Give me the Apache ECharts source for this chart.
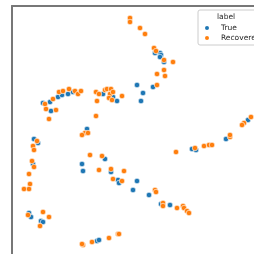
<!DOCTYPE html>
<html>
<head>
<meta charset="utf-8">
<script src="https://cdn.jsdelivr.net/npm/echarts@6/dist/echarts.min.js"></script>
<style>
  html, body { margin: 0; padding: 0; background: #fff; }
  #main { width: 254px; height: 254px; }
</style>
</head>
<body>
<div id="main"></div>
<script>
// embedding coordinates (arbitrary units)
const trueX = [31, 39, 38, 46, 50, 56, 61, 91, 101, 105, 143, 148, 149, 148, 152, 141, 125, 131, 129, 236,
    75, 22, 26, 21, 70, 71, 93, 99, 106, 107, 17, 19, 29, 31, 85, 87, 214, 180, 184, 125, 121, 137, 149, 158];
const trueY = [153, 145, 154, 159, 161, 162, 164, 162, 159, 155, 203, 203, 201, 199, 194, 169, 171, 163, 155, 136,
    127, 117, 113, 92, 92, 85, 97, 84, 76, 73, 43, 39, 35, 34, 15, 16, 117, 107, 106, 75, 66, 61, 52, 51];

const recX = [33, 34, 37, 44, 41, 47, 51, 57, 63, 66, 69, 84, 85, 84, 87, 93, 95, 99, 98, 101, 97, 100, 110,
    118, 118, 128, 133, 142, 144, 152, 161, 152, 153, 145, 145, 239, 232, 230,
    73, 76, 70, 25, 21, 22, 20, 22, 17, 18, 12, 17, 78, 90, 87, 99, 101, 110, 112,
    16, 31, 37, 28, 71, 70, 80, 97, 106, 107, 218, 218, 164, 183, 192, 197, 200,
    143, 144, 151, 151, 165, 171, 172, 175, 177];
const recY = [152, 147, 137, 146, 157, 164, 165, 167, 165, 162, 165, 164, 155, 140, 162, 166, 167, 167, 162, 164, 158, 156, 160,
    238, 234, 228, 222, 208, 205, 196, 194, 186, 180, 182, 171, 139, 133, 131,
    123, 123, 121, 115, 110, 106, 95, 89, 82, 72, 67, 67, 101, 100, 86, 87, 77, 75, 85,
    41, 44, 39, 30, 11, 12, 14, 18, 22, 22, 119, 121, 104, 108, 110, 111, 111,
    66, 64, 53, 50, 48, 50, 48, 45, 43];

const seriesNames = ['True', 'Recovered'];
const blue = '#1f77b4';
const orange = '#ff7f0e';

const chart = echarts.init(document.getElementById('main'));

function pairs(xs, ys) {
    return xs.map((x, i) => [x, ys[i]]);
}

const spine = { show: true, onZero: false, lineStyle: { color: '#777', width: 2 } };

const option = {
    animation: false,
    // the plot area runs past the right and bottom edges of the picture
    grid: { left: 12, top: 6, width: 270, height: 270, outerBoundsMode: 'none', containLabel: false },
    xAxis: {
        type: 'value', position: 'top', min: 0, max: 270,
        axisLine: spine, axisTick: { show: false }, axisLabel: { show: false }, splitLine: { show: false }
    },
    yAxis: {
        type: 'value', position: 'left', min: -20, max: 250,
        axisLine: spine, axisTick: { show: false }, axisLabel: { show: false }, splitLine: { show: false }
    },
    legend: {
        orient: 'vertical',
        left: 198, top: 10,
        padding: [14, 40, 3, 5],
        itemWidth: 18, itemHeight: 6, itemGap: 2,
        icon: 'circle',
        backgroundColor: 'rgba(255,255,255,0.85)',
        borderColor: '#ccc', borderWidth: 1, borderRadius: 2,
        textStyle: { fontFamily: 'DejaVu Sans', fontSize: 7.5, color: '#262626', lineHeight: 8 },
        data: seriesNames
    },
    graphic: [{
        type: 'text', left: 217, top: 13, z: 100,
        style: { text: 'label', fontFamily: 'DejaVu Sans', fontSize: 7.5, fill: '#262626' }
    }],
    series: [
        {
            name: seriesNames[0], type: 'scatter', symbolSize: 5.5,
            itemStyle: { color: blue, opacity: 1, borderColor: '#fff', borderWidth: 0.6 },
            data: pairs(trueX, trueY)
        },
        {
            name: seriesNames[1], type: 'scatter', symbolSize: 5.5,
            itemStyle: { color: orange, opacity: 1, borderColor: '#fff', borderWidth: 0.6 },
            data: pairs(recX, recY)
        }
    ]
};
chart.setOption(option);
</script>
</body>
</html>
